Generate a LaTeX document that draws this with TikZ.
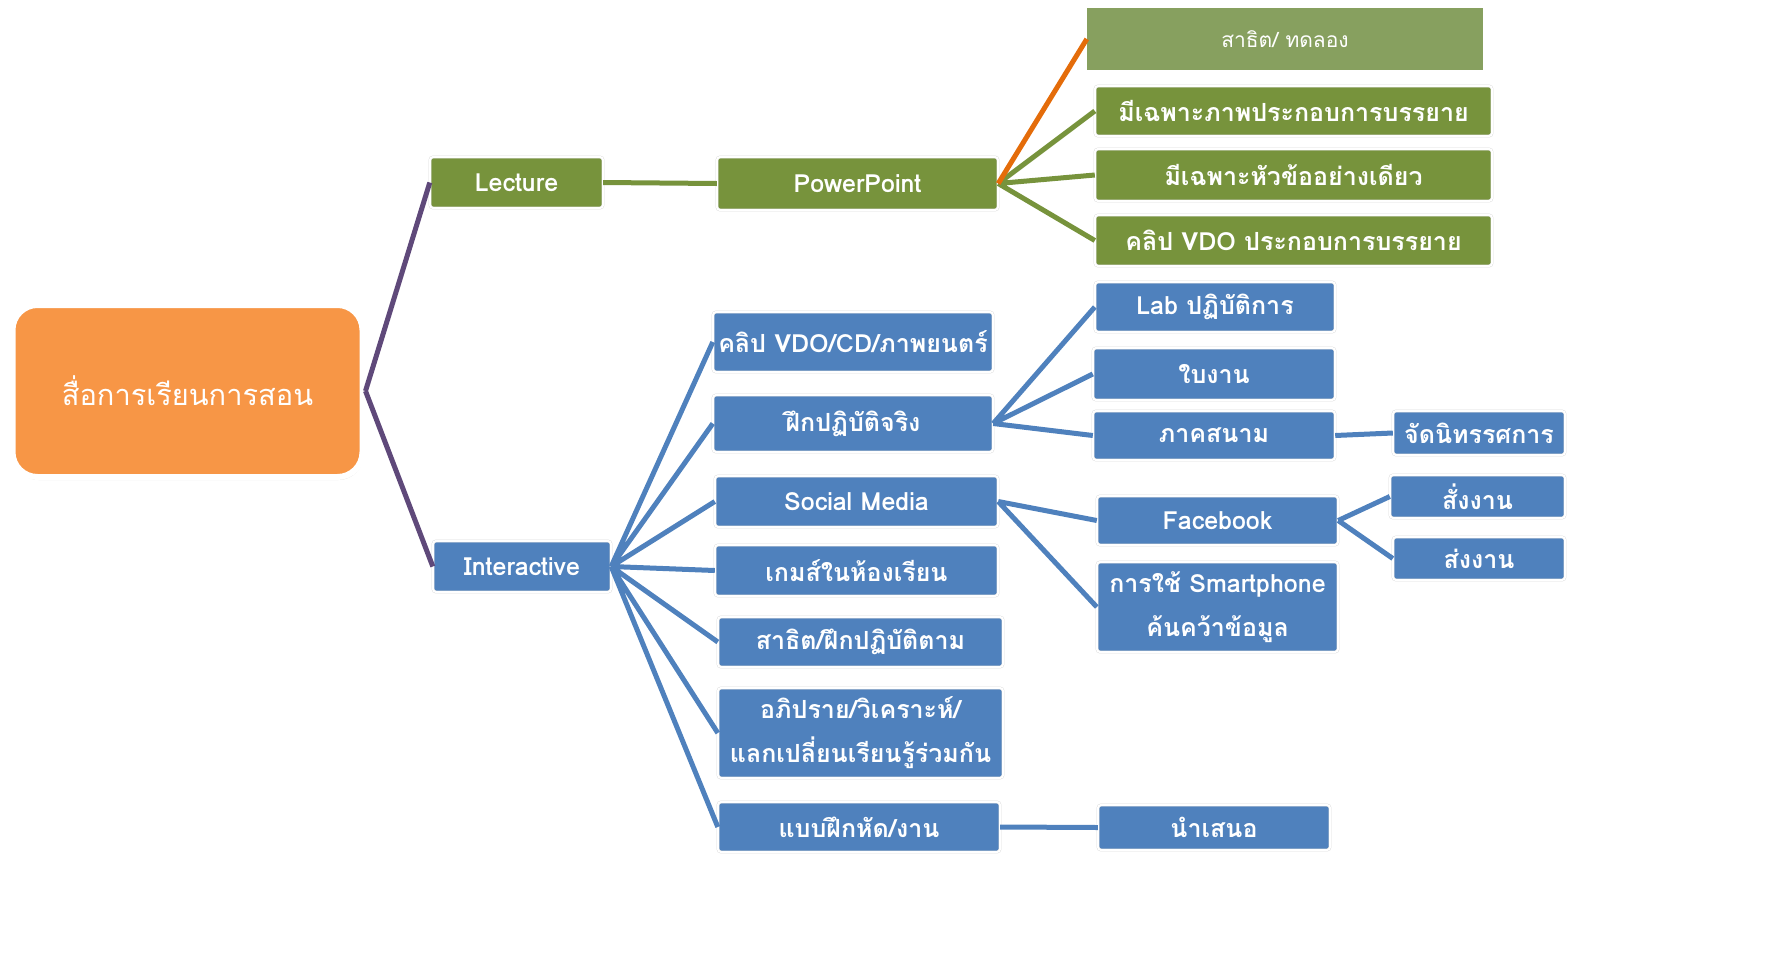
\documentclass[tikz,border=0pt]{standalone}
\usepackage{fontspec}
\setmainfont[Script=Thai]{Loma}
\usetikzlibrary{shadows}
\definecolor{mapgreen}{HTML}{77933C}
\definecolor{mapgreenlight}{HTML}{87A05F}
\definecolor{mapblue}{HTML}{4F81BD}
\definecolor{maporange}{HTML}{F79646}
\definecolor{mapline}{HTML}{E46C0A}
\definecolor{mappurple}{HTML}{5F497A}
\tikzset{
  map box/.style={rectangle, rounded corners=3pt, inner sep=0pt, align=center,
    text=white, font=\bfseries\fontsize{25}{44}\selectfont,
    draw=black!15, double=white, double distance=2pt},
  green box/.style={map box, fill=mapgreen},
  blue box/.style={map box, fill=mapblue},
  green link/.style={draw=mapgreen, line width=5pt},
  blue link/.style={draw=mapblue, line width=5pt},
}
\begin{document}
\begin{tikzpicture}[x=1pt,y=-1pt]
        \useasboundingbox (0,0) rectangle (1769,964);
        % root
        \node (media) [rectangle, rounded corners=25pt, fill=maporange, draw=white,
          line width=6pt, minimum width=350, minimum height=172, text=white,
          font=\fontsize{29}{36}\selectfont,
          drop shadow={shadow xshift=1pt, shadow yshift=-3pt, opacity=0.25}]
          at (187.5,391) {สื่อการเรียนการสอน};
        % first level
        \node (lecture) [green box, minimum width=173, minimum height=51]
          at (516.5,182.5) {Lecture};
        \node (interactive) [blue box, minimum width=178, minimum height=51]
          at (522,566.5) {Interactive};
        % lecture branch
        \node (power point) [green box, minimum width=281, minimum height=53]
          at (857.5,183.5) {PowerPoint};
        \node (demo trial) [rectangle, fill=mapgreenlight, text=white,
          font=\fontsize{21}{26}\selectfont, minimum width=396, minimum height=62]
          at (1285,39) {สาธิต/ ทดลอง};
        \node (picture only) [green box, minimum width=397, minimum height=50]
          at (1293.5,111) {มีเฉพาะภาพประกอบการบรรยาย};
        \node (topic only) [green box, minimum width=397, minimum height=52]
          at (1293.5,175) {มีเฉพาะหัวข้ออย่างเดียว};
        \node (clip lecture) [green box, minimum width=397, minimum height=51]
          at (1293.5,240.5) {คลิป VDO ประกอบการบรรยาย};
        % interactive branch
        \node (clip movie) [blue box, minimum width=280, minimum height=60]
          at (853,342) {คลิป VDO/CD/ภาพยนตร์};
        \node (practice) [blue box, minimum width=280, minimum height=57]
          at (853,423.5) {ฝึกปฏิบัติจริง};
        \node (social) [blue box, minimum width=283, minimum height=51]
          at (856.5,501.5) {Social Media};
        \node (game) [blue box, minimum width=283, minimum height=51]
          at (856.5,570.5) {เกมส์ในห้องเรียน};
        \node (demo follow) [blue box, minimum width=285, minimum height=50]
          at (860.5,642) {สาธิต/ฝึกปฏิบัติตาม};
        \node (discuss) [blue box, minimum width=285, minimum height=90]
          at (860.5,733) {อภิปราย/วิเคราะห์/\\แลกเปลี่ยนเรียนรู้ร่วมกัน};
        \node (exercise) [blue box, minimum width=282, minimum height=50]
          at (859,827) {แบบฝึกหัด/งาน};
        % third level
        \node (lab) [blue box, minimum width=240, minimum height=50]
          at (1215,307) {Lab ปฏิบัติการ};
        \node (work sheet) [blue box, minimum width=242, minimum height=52]
          at (1214,374) {ใบงาน};
        \node (field) [blue box, minimum width=242, minimum height=49]
          at (1214,435.5) {ภาคสนาม};
        \node (exhibit) [blue box, minimum width=172, minimum height=44]
          at (1479,433) {จัดนิทรรศการ};
        \node (facebook) [blue box, minimum width=241, minimum height=49]
          at (1217.5,520.5) {Facebook};
        \node (smartphone) [blue box, minimum width=241, minimum height=90]
          at (1217.5,607) {การใช้ Smartphone\\ค้นคว้าข้อมูล};
        \node (assign) [blue box, minimum width=175, minimum height=43]
          at (1477.5,496.5) {สั่งงาน};
        \node (hand in) [blue box, minimum width=172, minimum height=43]
          at (1479,558.5) {ส่งงาน};
        \node (present) [blue box, minimum width=232, minimum height=45]
          at (1214,827.5) {นำเสนอ};
        % connectors
        \draw
          [draw=mappurple, line width=5pt]
          (media.east) -- (lecture.west)
          (media.east) -- (interactive.west)
        ;
        \draw
          [green link]
          (lecture.east) -- (power point.west)
          (power point.east) -- (picture only.west)
          (power point.east) -- (topic only.west)
          (power point.east) -- (clip lecture.west)
        ;
        \draw
          [draw=mapline, line width=5pt]
          (power point.east) -- (demo trial.west)
        ;
        \draw
          [blue link]
          (interactive.east) -- (clip movie.west)
          (interactive.east) -- (practice.west)
          (interactive.east) -- (social.west)
          (interactive.east) -- (game.west)
          (interactive.east) -- (demo follow.west)
          (interactive.east) -- (discuss.west)
          (interactive.east) -- (exercise.west)
          (practice.east) -- (lab.west)
          (practice.east) -- (work sheet.west)
          (practice.east) -- (field.west)
          (field.east) -- (exhibit.west)
          (social.east) -- (facebook.west)
          (social.east) -- (smartphone.west)
          (facebook.east) -- (assign.west)
          (facebook.east) -- (hand in.west)
          (exercise.east) -- (present.west)
        ;
      \end{tikzpicture}
\end{document}
